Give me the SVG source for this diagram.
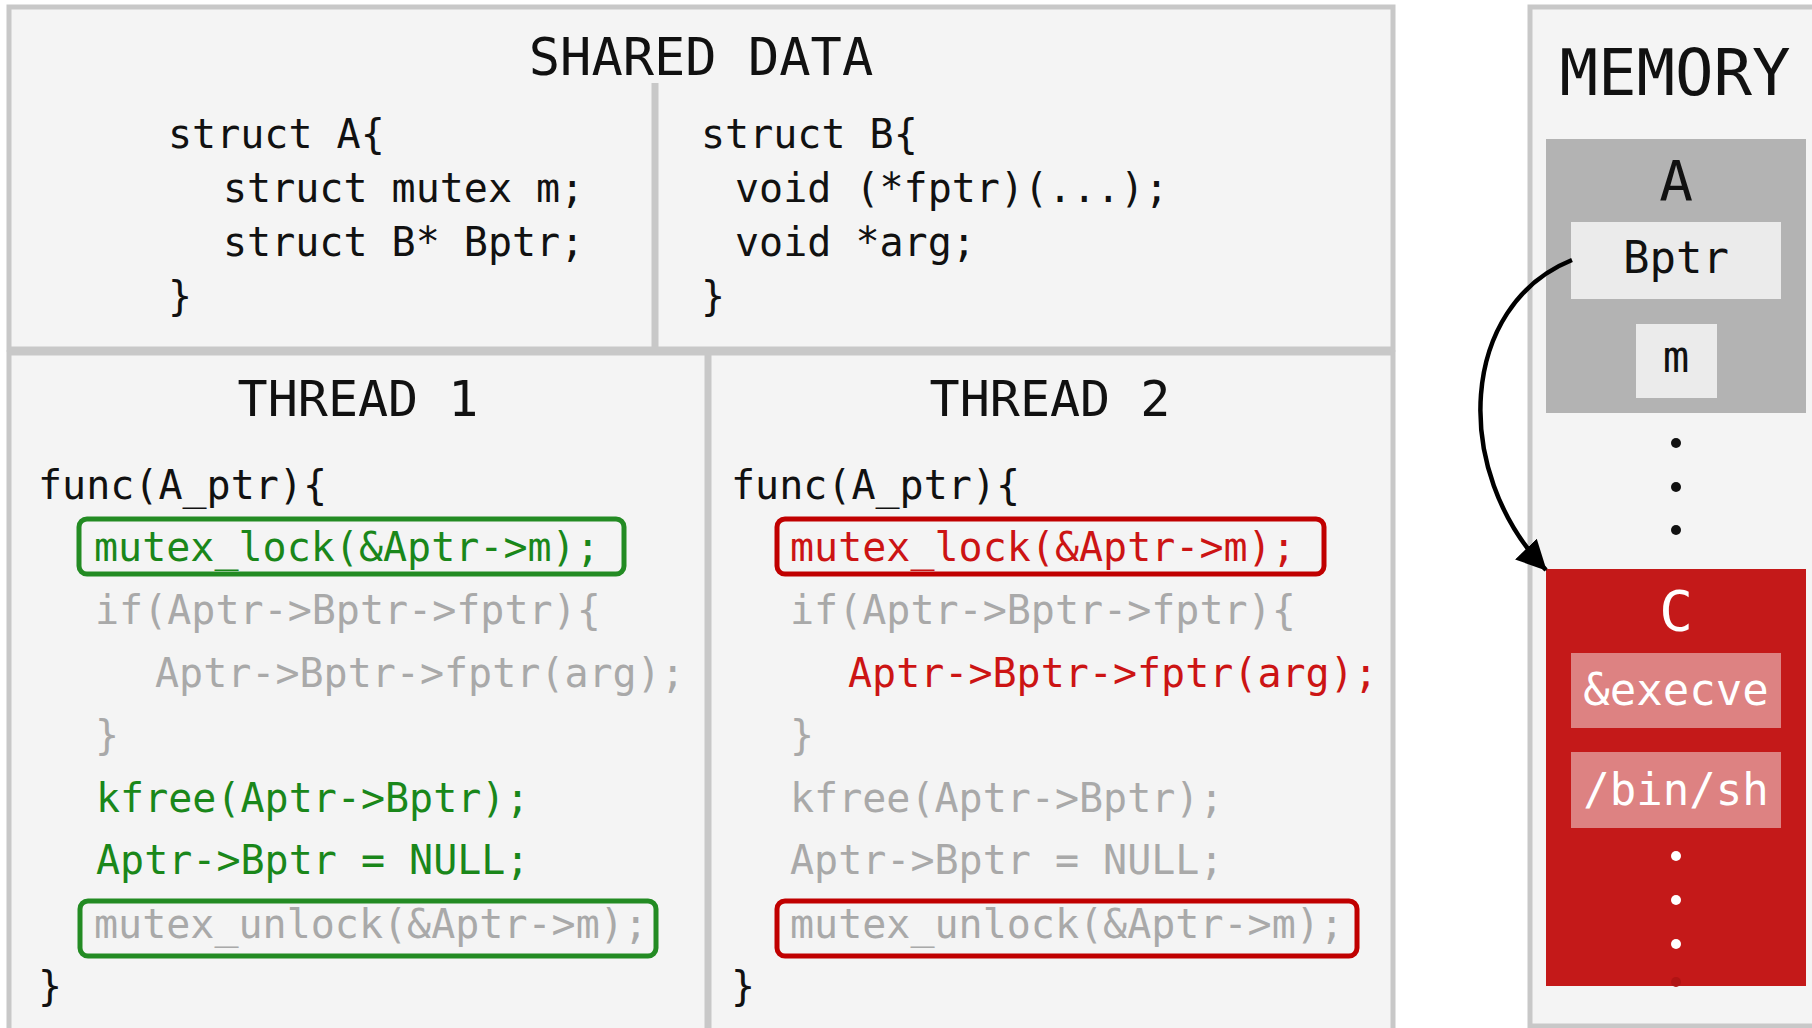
<svg xmlns="http://www.w3.org/2000/svg" width="1812" height="1028" viewBox="0 0 1812 1028">
  <style>
    .panel { fill: #f4f4f4; stroke: #c8c8c8; stroke-width: 5; }
    .code { font-family: "DejaVu Sans Mono", "Liberation Mono", monospace; font-size: 40px; }
    .title { font-family: "DejaVu Sans Mono", "Liberation Mono", monospace; text-anchor: middle; fill: #111; }
    .blk { fill: #111; }
    .dim { fill: #a9a9a9; }
    .ok { fill: #1a871a; }
    .bad { fill: #cc1414; }
    .okbox { fill: none; stroke: #238b23; stroke-width: 5; }
    .badbox { fill: none; stroke: #c00000; stroke-width: 5; }
    .mem { font-family: "DejaVu Sans Mono", "Liberation Mono", monospace; text-anchor: middle; }
  </style>
  <defs>
    <marker id="arrow" markerUnits="userSpaceOnUse" viewBox="0 0 30 30" refX="29" refY="15" markerWidth="30" markerHeight="30" orient="auto">
      <path d="M0,0 L30,15 L0,30 z" fill="#000"/>
    </marker>
  </defs>

  <rect width="1812" height="1028" fill="#ffffff"/>

  <!-- shared data panel -->
  <g id="shared-data">
    <rect class="panel" x="9" y="7" width="1384" height="342"/>
    <line x1="655" y1="83" x2="655" y2="347" stroke="#c8c8c8" stroke-width="7"/>
    <text class="title" x="701" y="75" font-size="52">SHARED DATA</text>
    <g class="code blk">
      <text x="168" y="148">struct A{</text>
      <text x="223" y="202">struct mutex m;</text>
      <text x="223" y="256">struct B* Bptr;</text>
      <text x="168" y="310">}</text>
      <text x="701" y="148">struct B{</text>
      <text x="735" y="202">void (*fptr)(...);</text>
      <text x="735" y="256">void *arg;</text>
      <text x="701" y="310">}</text>
    </g>
  </g>

  <!-- thread 1 -->
  <g id="thread-1">
    <rect class="panel" x="9" y="353" width="698" height="700"/>
    <text class="title" x="358" y="416" font-size="50">THREAD 1</text>
    <rect class="okbox" x="79" y="519" width="545" height="55" rx="8"/>
    <rect class="okbox" x="80" y="901" width="576" height="55" rx="8"/>
    <g class="code">
      <text class="blk" x="38" y="499">func(A_ptr){</text>
      <text class="ok" x="94" y="561">mutex_lock(&amp;Aptr-&gt;m);</text>
      <text class="dim" x="95" y="624">if(Aptr-&gt;Bptr-&gt;fptr){</text>
      <text class="dim" x="155" y="687">Aptr-&gt;Bptr-&gt;fptr(arg);</text>
      <text class="dim" x="95" y="749">}</text>
      <text class="ok" x="96" y="812">kfree(Aptr-&gt;Bptr);</text>
      <text class="ok" x="96" y="874">Aptr-&gt;Bptr = NULL;</text>
      <text class="dim" x="94" y="938">mutex_unlock(&amp;Aptr-&gt;m);</text>
      <text class="blk" x="38" y="1000">}</text>
    </g>
  </g>

  <!-- thread 2 -->
  <g id="thread-2">
    <rect class="panel" x="709" y="353" width="684" height="700"/>
    <text class="title" x="1050" y="416" font-size="50">THREAD 2</text>
    <rect class="badbox" x="777" y="519" width="547" height="55" rx="8"/>
    <rect class="badbox" x="777" y="901" width="580" height="55" rx="8"/>
    <g class="code">
      <text class="blk" x="731" y="499">func(A_ptr){</text>
      <text class="bad" x="790" y="561">mutex_lock(&amp;Aptr-&gt;m);</text>
      <text class="dim" x="790" y="624">if(Aptr-&gt;Bptr-&gt;fptr){</text>
      <text class="bad" x="848" y="687">Aptr-&gt;Bptr-&gt;fptr(arg);</text>
      <text class="dim" x="790" y="749">}</text>
      <text class="dim" x="790" y="812">kfree(Aptr-&gt;Bptr);</text>
      <text class="dim" x="790" y="874">Aptr-&gt;Bptr = NULL;</text>
      <text class="dim" x="790" y="938">mutex_unlock(&amp;Aptr-&gt;m);</text>
      <text class="blk" x="731" y="1000">}</text>
    </g>
  </g>

  <!-- memory layout -->
  <g id="memory">
    <rect class="panel" x="1530" y="7" width="320" height="1019"/>
    <text class="title" x="1675" y="95" font-size="64">MEMORY</text>
  </g>

  <g id="struct-a">
    <rect x="1546" y="139" width="260" height="274" fill="#b3b3b3"/>
    <text class="mem" x="1676" y="200" font-size="56" fill="#111">A</text>
    <rect x="1571" y="222" width="210" height="77" fill="#ebebeb"/>
    <text class="mem" x="1676" y="273" font-size="44" fill="#111">Bptr</text>
    <rect x="1636" y="324" width="81" height="74" fill="#ebebeb"/>
    <text class="mem" x="1676" y="372" font-size="44" fill="#111">m</text>
  </g>

  <g id="gap-dots" fill="#111">
    <circle cx="1676" cy="443" r="5"/>
    <circle cx="1676" cy="487" r="5"/>
    <circle cx="1676" cy="530" r="5"/>
  </g>

  <g id="struct-c">
    <rect x="1546" y="569" width="260" height="417" fill="#c41919"/>
    <text class="mem" x="1676" y="630" font-size="56" fill="#ffffff">C</text>
    <rect x="1571" y="653" width="210" height="75" fill="#dd8282"/>
    <text class="mem" x="1676" y="705" font-size="44" fill="#ffffff">&amp;execve</text>
    <rect x="1571" y="752" width="210" height="76" fill="#dd8282"/>
    <text class="mem" x="1676" y="805" font-size="44" fill="#ffffff">/bin/sh</text>
    <circle cx="1676" cy="856" r="5" fill="#ffffff"/>
    <circle cx="1676" cy="900" r="5" fill="#ffffff"/>
    <circle cx="1676" cy="944" r="5" fill="#ffffff"/>
    <circle cx="1676" cy="982" r="5" fill="#b01414"/>
  </g>

  <!-- pointer from Bptr to the reused chunk -->
  <g id="connectors">
    <path d="M1572,260 C1460,305 1450,470 1546,570" fill="none" stroke="#000" stroke-width="4.5" marker-end="url(#arrow)"/>
  </g>
</svg>
